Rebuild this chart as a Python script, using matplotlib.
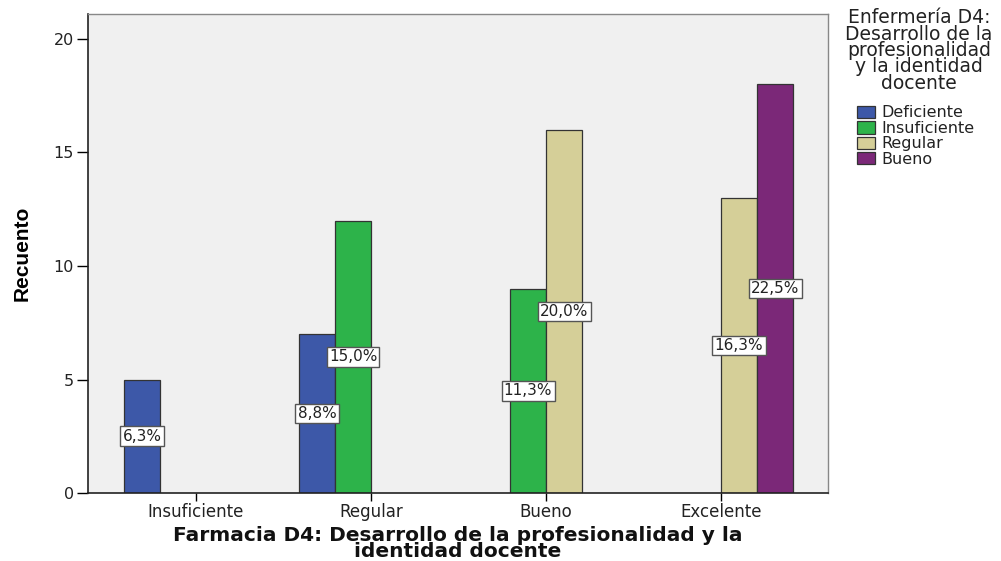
import numpy as np
import matplotlib.pyplot as plt
import matplotlib as mpl
from matplotlib.patches import Patch

mpl.rcParams.update({
    "font.family": ["DejaVu Sans"],
    "font.size": 9,
})

categories = ["Insuficiente", "Regular", "Bueno", "Excelente"]
series = ["Deficiente", "Insuficiente", "Regular", "Bueno"]
colors = ["#3D58A8", "#2DB34A", "#D5CF98", "#7B2878"]

# counts per series across the x categories (0 = no bar)
counts = {
    "Deficiente":   [5, 7, 0, 0],
    "Insuficiente": [0, 12, 9, 0],
    "Regular":      [0, 0, 16, 13],
    "Bueno":        [0, 0, 0, 18],
}
pct_labels = {
    "Deficiente":   ["6,3%", "8,8%", "", ""],
    "Insuficiente": ["", "15,0%", "11,3%", ""],
    "Regular":      ["", "", "20,0%", "16,3%"],
    "Bueno":        ["", "", "", "22,5%"],
}

fig = plt.figure(figsize=(10.01, 5.61), dpi=100)
ax = fig.add_axes([0.0879, 0.1212, 0.7393, 0.8538])
ax.set_facecolor("#F0F0F0")

x = np.arange(len(categories))
w = 0.2057
for i, s in enumerate(series):
    off = (i - 1.5) * w
    vals = np.array(counts[s])
    for j, v in enumerate(vals):
        if v <= 0:
            continue
        ax.bar(x[j] + off, v, width=w, color=colors[i], edgecolor="#333333",
               linewidth=0.9, zorder=2)
    for j, v in enumerate(vals):
        if v <= 0:
            continue
        ax.text(x[j] + off, v / 2, pct_labels[s][j], ha="center", va="center",
                fontsize=11, color="#222222", zorder=5,
                bbox=dict(boxstyle="square,pad=0.15", fc="white",
                          ec="#555555", lw=1.0))

ax.set_xlim(-0.617, 3.611)
ax.set_ylim(0, 21.1)
ax.set_yticks([0, 5, 10, 15, 20])
ax.set_xticks(x)
ax.set_xticklabels(categories, fontsize=12, color="#222222")
ax.tick_params(axis="y", labelsize=11.5, labelcolor="#222222", length=8,
               width=1, pad=2)
ax.tick_params(axis="x", length=6, width=1, pad=1)

for side in ["left", "bottom"]:
    ax.spines[side].set_color("#222222")
    ax.spines[side].set_linewidth(1.2)
for side in ["top", "right"]:
    ax.spines[side].set_color("#888888")
    ax.spines[side].set_linewidth(1.0)

ax.set_ylabel("Recuento", fontsize=15, fontweight="bold",
              family=["Liberation Sans"], labelpad=16)
fig.text(0.4575, 0.031,
         "Farmacia D4: Desarrollo de la profesionalidad y la\nidentidad docente",
         ha="center", va="center", fontsize=14.5, fontweight="bold",
         linespacing=0.82, color="#111111")

# legend title and entries
fig.text(0.918, 0.985,
         "Enfermería D4:\nDesarrollo de la\nprofesionalidad\ny la identidad\ndocente",
         ha="center", va="top", fontsize=13.5, linespacing=0.82,
         color="#222222")
handles = [Patch(facecolor=c, edgecolor="#333333", lw=0.9) for c in colors]
leg = fig.legend(handles, series, loc="upper left",
                 bbox_to_anchor=(0.856, 0.812), frameon=False,
                 fontsize=11.5, handlelength=1.15, handleheight=0.8,
                 handletextpad=0.4, labelspacing=0.03, borderpad=0.0,
                 borderaxespad=0.0)
for t in leg.get_texts():
    t.set_color("#222222")

fig.savefig("out.png", dpi=100)
